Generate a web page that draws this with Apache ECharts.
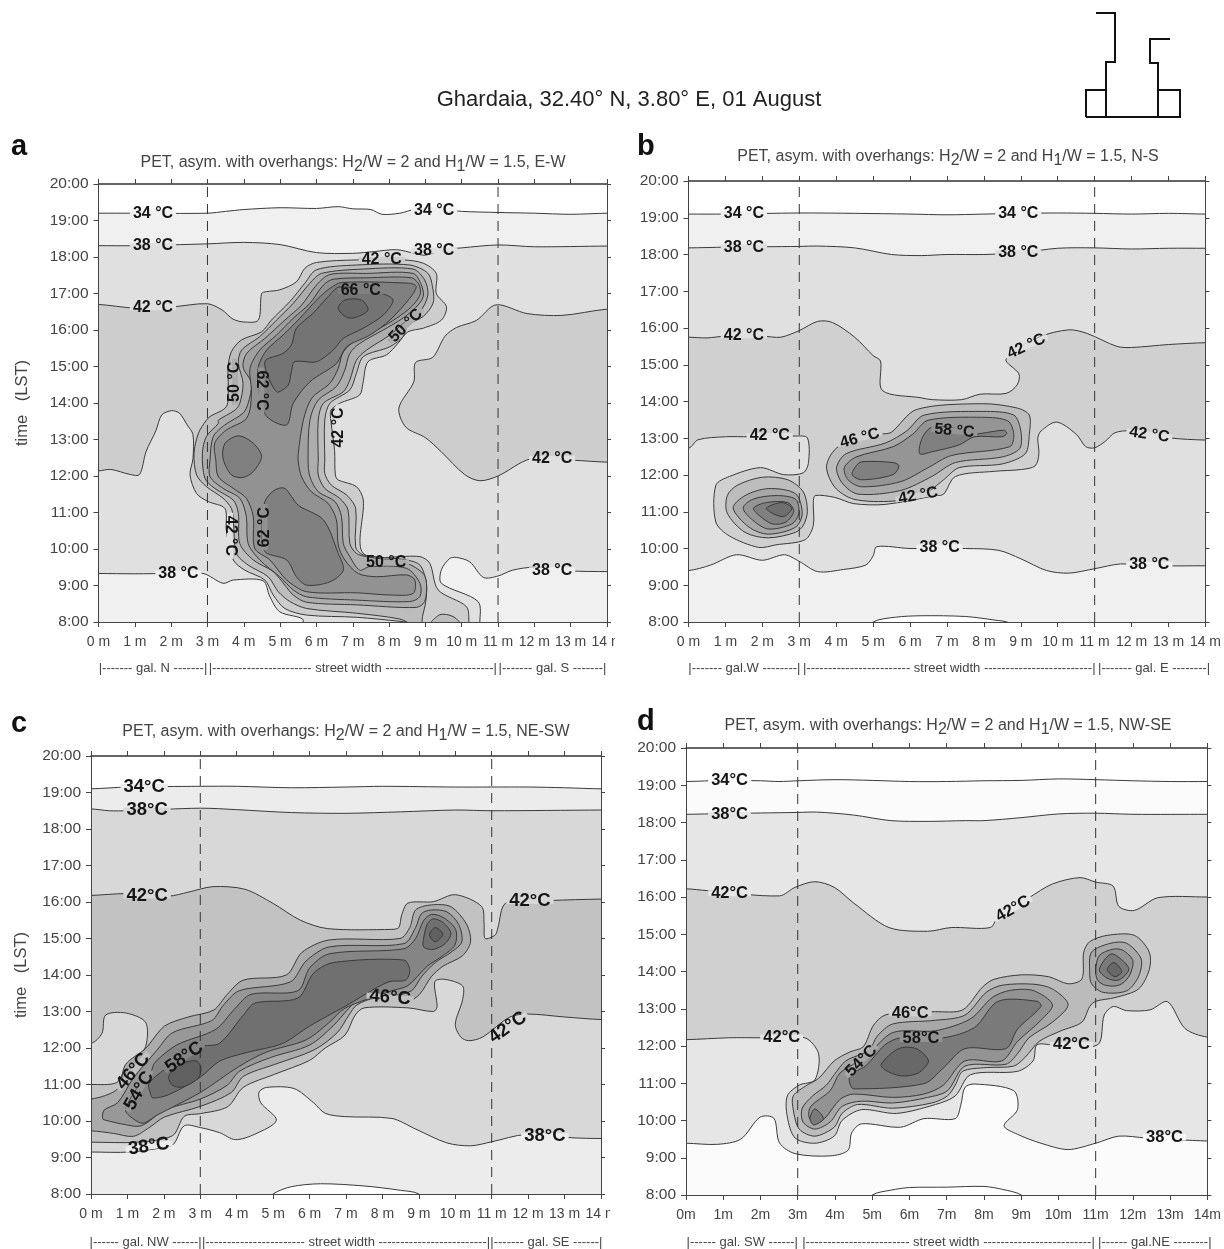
<!DOCTYPE html>
<html><head><meta charset="utf-8">
<style>html,body{margin:0;padding:0;background:#fff}#c{width:1224px;height:1249px}</style>
<script src="https://cdn.jsdelivr.net/npm/echarts@6/dist/echarts.min.js"></script>
</head><body><div id="c"></div>
<script>
// ---- axis ticks / dashes
const metres=[0,14], hours=[8,20], gallery=[3,11];
// ---- PANEL A contours: [metres, hour]
const a34=[[-1,19.2],[0,19.2],[1,19.2],[3,19.2],[3.5,19.25],[4,19.3],[5,19.35],[6,19.33],[6.6,19.38],[7,19.32],[7.5,19.3],[7.8,19.17],[8.3,19.2],[8.7,19.3],[9.5,19.3],[10,19.25],[11,19.22],[12,19.2],[13,19.17],[14,19.2],[15,19.2],[15,7],[-1,7]];
const a38=[[-1,18.31],[0,18.31],[1,18.31],[3,18.36],[4,18.4],[5,18.34],[6,18.12],[7,18.1],[7.6,18.15],[8.2,18.2],[8.7,18.1],[9,18.05],[9.5,18.2],[10,18.25],[11,18.33],[12,18.28],[14,18.3],[15,18.3],[15,9.38],[14,9.38],[13,9.4],[12,9.5],[11.4,9.42],[11,9.26],[10.6,9.22],[10.22,9.65],[9.85,9.77],[9.67,9.74],[9.44,9.43],[9.44,9.06],[10.45,8.56],[10.5,7.96],[10.5,7.5],[5.2,7.5],[5.64,8.05],[4.99,8.28],[4.72,8.69],[4.53,9.13],[3.71,9.15],[3.43,9.06],[2.88,9.33],[2,9.33],[1,9.32],[0,9.33],[-1,9.33]];
const a42right=[[15,12.38],[14,12.38],[13.09,12.43],[11.9,12.47],[11,12],[10.5,11.87],[10.08,12.04],[9.43,12.67],[9,13.05],[8.46,13.34],[8.27,13.86],[8.68,14.58],[8.73,15.11],[9.2,15.25],[9.54,15.83],[9.86,16.07],[10.4,16.26],[10.94,16.69],[11.8,16.45],[12.76,16.4],[14,16.57],[15,16.57]];
const a42main=[[-1,16.7],[0,16.7],[1,16.6],[2,16.63],[3,16.72],[3.4,16.55],[3.7,16.3],[4,16.22],[4.4,16.27],[4.49,17],[4.62,17.05],[4.99,17.1],[5.45,17.32],[5.68,17.69],[6,17.85],[7.1,17.92],[8.39,17.92],[8.94,17.83],[9.3,17.55],[9.3,17],[9.58,16.64],[9.44,16.27],[8.94,16.05],[8.52,15.95],[8.25,15.64],[7.93,15.32],[7.42,15.13],[7.28,14.54],[7.19,14.22],[6.64,13.99],[6.4,13.8],[6.4,13.5],[6.5,12.7],[6.52,12.03],[6.6,11.89],[7.1,11.71],[7.29,11.34],[7.29,9.88],[8.85,9.79],[9.12,9.61],[9.35,8.88],[10.13,8.42],[10.2,7.96],[10.2,7.6],[8.95,7.6],[8.95,7.95],[8.39,8.01],[7.1,8.13],[5.73,8.19],[5.13,8.37],[4.81,8.74],[4.58,9.15],[4.03,9.42],[3.71,9.7],[3.52,10.5],[3.48,11.11],[3.02,11.3],[2.7,11.52],[2.52,12.03],[2.6,12.47],[2.6,13.14],[2.44,13.4],[2.23,13.72],[2.01,13.79],[1.74,13.67],[1.58,13.24],[1.31,12.67],[1.13,12.04],[0.88,12.04],[0.34,12.18],[0,12.14],[-1,12.14]];
const a46=[[3.57,14.99],[3.66,15.41],[3.94,15.73],[4.49,15.95],[4.76,16.27],[5.27,16.78],[5.68,17.28],[6,17.65],[7.1,17.78],[8.57,17.78],[9.07,17.55],[9.21,17.1],[9.21,16.73],[8.94,16.37],[8.52,16.14],[8.39,15.82],[8.02,15.54],[7.29,15.27],[7.1,14.81],[6.92,14.36],[6.37,13.99],[6.23,13.53],[6.23,12.44],[6.23,12.07],[6.41,11.75],[6.83,11.48],[7.08,11.11],[7.08,10.06],[7.29,9.84],[8.48,9.7],[8.85,9.56],[9.03,9.06],[9.01,8.56],[8.92,8.15],[8.88,7.9],[8.7,7.9],[8.3,8.08],[7.1,8.24],[5.73,8.37],[5.27,8.56],[4.95,8.83],[4.67,9.24],[4.12,9.56],[3.8,9.88],[3.71,10.8],[3.66,11.11],[3.43,11.39],[2.97,11.71],[2.7,12.03],[2.63,12.62],[2.75,13.17],[2.97,13.53],[3.07,13.63],[3.52,13.9],[3.57,14.45]];
const a46foot=[[9.12,7.9],[9.4,8.2],[9.76,8.15],[9.99,7.9]];
const a50=[[3.85,15.09],[3.94,15.45],[4.44,15.82],[4.9,16.27],[5.36,16.73],[5.82,17.28],[6.14,17.55],[7.29,17.67],[8.66,17.67],[8.98,17.37],[9.07,16.96],[8.85,16.5],[8.39,16.18],[8.02,15.86],[7.38,15.45],[7.1,15.17],[6.92,14.63],[6.74,14.31],[6.19,13.99],[6.05,13.53],[6.05,12.44],[6.05,12.03],[6.23,11.66],[6.64,11.39],[6.87,11.07],[6.92,10.15],[7.1,9.88],[7.38,9.79],[8.48,9.61],[8.94,9.33],[9.03,9.06],[8.98,8.56],[8.75,8.4],[7.1,8.47],[5.73,8.54],[5.36,8.74],[5.13,9.01],[4.81,9.38],[4.26,9.7],[3.89,10.15],[3.85,10.98],[3.71,11.34],[3.2,11.66],[2.93,11.94],[2.86,12.62],[2.97,13.08],[3.3,13.44],[3.3,13.53],[3.75,13.8],[3.89,13.99],[3.98,14.54]];
const a54=[[3.98,14.99],[4.08,15.36],[4.58,15.77],[5.13,16.27],[5.59,16.68],[6,17.23],[6.37,17.52],[7.38,17.55],[8.66,17.55],[8.89,17.23],[8.94,16.91],[8.71,16.59],[8.3,16.27],[7.84,16],[7.19,15.63],[6.92,15.36],[6.78,14.9],[6.55,14.45],[6.05,14.08],[5.82,13.53],[5.77,12.44],[5.82,11.98],[6.05,11.57],[6.51,11.3],[6.69,10.89],[6.74,10.15],[6.92,9.79],[7.19,9.42],[7.47,9.52],[8.48,9.47],[8.85,9.06],[8.85,8.7],[8.57,8.56],[7.1,8.6],[5.73,8.69],[5.36,8.88],[4.99,9.24],[4.44,9.7],[4.12,10.15],[4.07,10.89],[3.89,11.39],[3.43,11.66],[3.07,11.98],[3.07,12.44],[3.16,13.08],[3.48,13.4],[3.98,13.72],[4.12,13.99],[4.21,14.54]];
const a58=[[4.17,14.95],[4.44,15.45],[4.9,15.86],[5.36,16.32],[5.82,16.73],[6.19,17.23],[6.46,17.39],[7.38,17.43],[8.62,17.43],[8.83,17.23],[8.85,16.96],[8.62,16.64],[8.2,16.32],[7.75,16.05],[7.1,15.73],[6.74,15.4],[6.6,14.95],[6.37,14.54],[5.87,14.13],[5.64,13.53],[5.5,12.62],[5.5,12.39],[5.59,11.98],[5.86,11.57],[6.32,11.25],[6.55,10.8],[6.6,10.11],[6.78,9.7],[7.15,9.33],[7.65,9.24],[8.48,9.29],[8.71,9.15],[8.66,8.78],[8.02,8.74],[7.1,8.8],[5.73,8.83],[5.18,9.15],[4.72,9.7],[4.3,10.02],[4.26,10.89],[4.07,11.39],[3.71,11.66],[3.3,11.98],[3.23,12.44],[3.2,12.9],[3.52,13.26],[4.03,13.53],[4.17,13.81],[4.21,14.36]];
const a62up=[[4.4,14.99],[4.63,15.45],[5.08,15.86],[5.54,16.32],[6.05,16.87],[6.37,17.14],[6.69,17.3],[8.57,17.28],[8.75,17.19],[8.57,16.87],[8.02,16.27],[7.47,15.86],[6.83,15.54],[6.55,15.08],[5.82,14.58],[5.36,13.99],[5.18,13.4],[4.63,13.63],[4.42,14.26]];
const a62low=[[4.58,11.3],[4.86,11.62],[5.13,11.66],[5.5,11.2],[6.19,10.8],[6.6,9.88],[6.74,9.42],[6.37,9.1],[5.73,9.01],[5.45,9.24],[5.18,9.7],[4.58,9.93],[4.49,10.6]];
const a62mid=[[3.43,12.48],[3.48,12.89],[3.85,13.1],[4.26,12.9],[4.49,12.53],[4.26,12.12],[3.98,11.96],[3.66,12.03]];
const a66=[[4.58,15.13],[4.9,14.31],[5.22,14.49],[5.31,14.86],[5.4,15.13],[6,15.13],[6.46,15.45],[6.74,15.77],[7.29,16.05],[7.84,16.41],[8.11,16.82],[7.79,17],[6.64,17.18],[6.32,16.91],[5.91,16.46],[5.45,16.05],[5.31,15.59],[5.08,15.36]];
const a70=[[6.6,16.59],[6.78,16.82],[7.24,16.82],[7.42,16.55],[7.1,16.35],[6.83,16.35]];
const aLabelPos=[[1.5,19.2],[9.24,19.28],[1.5,18.3],[9.24,18.18],[7.8,17.92],[7.22,17.07],[8.46,16.12],[1.5,16.62],[3.76,14.58],[4.48,14.34],[6.61,13.33],[12.49,12.47],[3.62,10.36],[4.57,10.6],[7.92,9.63],[2.2,9.33],[12.49,9.42]];
const aLabelText=['34 °C','34 °C','38 °C','38 °C','42 °C','66 °C','50 °C','42 °C','50 °C','62 °C','42 °C','42 °C','42 °C','62 °C','50 °C','38 °C','38 °C'];
const aLabelTurn=[0,0,0,0,0,0,45,0,90,-90,90,0,-90,90,0,0,0];
const aLabelLevel=[1,1,2,2,3,8,5,2,5,7,2,2,2,7,5,1,1];
// ---- PANEL B
const b34=[[-1,19.1],[0,19.1],[1,19.1],[3,19.13],[4.5,19.12],[6,19.1],[7,19.08],[8,19.1],[9,19.12],[10,19.13],[11,19.12],[12,19.1],[13,19.12],[14,19.1],[15,19.1],[15,7],[-1,7]];
const bCool=[[4.5,7.5],[5,8],[5.6,8.13],[6.3,8.17],[7.5,8.15],[8.3,8.05],[8.7,7.97],[9.2,7.5]];
const b38=[[-1,18.18],[0,18.18],[1,18.2],[3,18.22],[3.5,18.23],[4.5,18.18],[5.5,18],[6.3,17.97],[7,18],[8,18],[9,18.05],[10,18.17],[11,18.18],[12,18.15],[13,18.17],[14,18.17],[15,18.17],[15,9.53],[14,9.53],[12.5,9.53],[11.7,9.58],[11,9.45],[10.3,9.33],[9.7,9.4],[9,9.72],[8.4,9.95],[7.5,10],[6,10],[5.1,10.05],[5,9.8],[4.8,9.55],[4.2,9.43],[3.5,9.37],[3,9.65],[2.6,9.83],[2,9.68],[1.3,9.83],[0.6,9.55],[0,9.4],[-1,9.4]];
const b42=[[-1,15.75],[0,15.75],[0.5,15.73],[1,15.78],[2,15.78],[2.5,15.75],[3,15.93],[3.5,16.18],[3.9,16.15],[4.5,15.75],[5,15.25],[5.2,15.1],[5.25,14.3],[6.3,14.1],[6.6,14.05],[7.4,14.05],[7.9,14.2],[8.6,14.22],[8.9,14.45],[8.95,14.75],[8.6,15.15],[9.5,15.75],[10.3,15.95],[10.8,15.85],[11.6,15.5],[12,15.47],[13,15.55],[14,15.6],[15,15.6],[15,12.95],[14,12.95],[13.03,13.01],[11.97,13.2],[11.55,13.15],[11.29,12.92],[11,12.74],[10.76,12.77],[10.5,13.11],[9.97,13.44],[9.55,13.2],[9.46,13.01],[9.49,12.58],[9.39,12.25],[9.02,12.15],[8.28,12.1],[7.23,11.96],[6.91,11.48],[6.7,11.44],[5.33,11.2],[4.48,11.22],[3.96,11.39],[3.43,11.44],[3.38,11.25],[3.38,10.63],[3.16,10.24],[2.37,10.1],[1.9,10.03],[1.11,10.34],[0.74,10.72],[0.74,11.72],[1.11,11.96],[1.95,12.2],[2.58,12.01],[3.11,12.06],[3.25,12.34],[3.22,13.01],[2.9,13.06],[1.64,13.04],[1,13.04],[0.26,12.96],[0,12.73],[-1,12.73]];
const b46west=[[1.05,11.44],[1.32,11.72],[2,11.94],[2.69,11.87],[3.11,11.54],[3.22,11.01],[3.11,10.63],[2.9,10.44],[2.16,10.29],[1.53,10.44],[1.05,10.96]];
const b50west=[[1.21,11.1],[1.53,11.44],[2.16,11.63],[2.9,11.49],[3.08,10.96],[2.9,10.58],[2.16,10.39],[1.64,10.58]];
const b54west=[[1.48,11.1],[1.74,11.34],[2.37,11.44],[2.9,11.34],[2.99,10.96],[2.8,10.67],[2.16,10.53],[1.74,10.77]];
const b58west=[[1.76,11.1],[2.11,11.25],[2.69,11.25],[2.85,11.01],[2.64,10.72],[2.27,10.67],[1.9,10.91]];
const b62west=[[2.11,11.1],[2.53,11.25],[2.8,11.1],[2.58,10.87],[2.27,10.96]];
const b46=[[3.74,12.25],[4.06,12.77],[5.22,13.11],[5.49,13.16],[6.17,13.78],[7.97,13.94],[8.91,13.82],[9.23,13.63],[9.23,13.11],[9.12,12.58],[8.49,12.3],[7.33,12.2],[6.91,11.87],[6.38,11.48],[5.54,11.29],[4.48,11.34],[3.96,11.67]];
const b50=[[4.01,12.2],[4.27,12.58],[5.33,12.87],[5.91,13.2],[6.38,13.63],[7.97,13.73],[8.81,13.63],[9,13.2],[8.97,12.72],[8.49,12.49],[7.23,12.34],[6.59,11.96],[5.75,11.58],[4.59,11.48],[4.17,11.77]];
const b54=[[4.22,12.2],[4.54,12.49],[5.54,12.77],[6.07,13.11],[6.49,13.49],[7.97,13.57],[8.65,13.47],[8.81,13.11],[8.7,12.77],[7.12,12.53],[6.49,12.2],[5.75,11.82],[4.69,11.68],[4.32,11.87]];
const b58=[[6.26,12.58],[6.33,13.01],[6.59,13.3],[7.3,13.25],[7.6,13.1],[8.54,13.22],[8.62,13.13],[8.49,13.04],[7.75,13.04],[7.33,12.82],[6.59,12.63]];
const b58low=[[4.54,12.25],[4.69,12.36],[5.54,12.34],[5.7,12.25],[5.54,12.01],[4.69,11.87],[4.43,12.01]];
const bLabelPos=[[1.5,19.1],[8.93,19.1],[1.5,18.2],[8.93,18.05],[1.5,15.8],[9.15,15.5],[2.2,13.06],[4.64,13],[7.2,13.2],[6.22,11.44],[6.8,10.03],[12.48,9.55],[12.48,13.1]];
const bLabelText=['34 °C','34 °C','38 °C','38 °C','42 °C','42 °C','42 °C','46 °C','58 °C','42 °C','38 °C','38 °C','42 °C'];
const bLabelTurn=[0,0,0,0,0,25,0,15,-5,10,0,0,-8];
const bLabelLevel=[1,1,2,2,2,2,2,3,6,3,1,1,2];
// ---- PANEL C
const c34=[[-1,19.1],[0,19.1],[1,19.15],[3,19.17],[4,19.17],[5.5,19.13],[7,19.15],[8,19.17],[10,19.15],[12,19.15],[13,19.13],[14,19.1],[15,19.1],[15,7],[-1,7]];
const cCool=[[4.5,7.5],[5,8],[5.5,8.2],[6.3,8.28],[7.5,8.22],[8.5,8.1],[9,8],[9.5,7.5]];
const c38=[[-1,18.55],[0,18.55],[0.5,18.5],[1,18.5],[3,18.57],[4,18.53],[5.5,18.45],[7,18.43],[8.5,18.47],[10,18.52],[11,18.5],[14,18.52],[15,18.52],[15,9.52],[14,9.52],[13.21,9.54],[11.93,9.63],[11,9.43],[10.42,9.32],[9.77,9.4],[8.91,9.78],[8.26,10.07],[6.97,10.12],[6.43,10.21],[6.11,10.5],[5.57,10.89],[4.82,10.92],[4.61,10.79],[4.66,10.5],[5.09,10.02],[4.5,9.64],[3.96,9.49],[3.53,9.68],[3,9.82],[2.56,9.87],[2.29,9.39],[2.13,9.3],[1.06,9.15],[0,9.15],[-1,9.15]];
const c42=[[-1,16.18],[0,16.18],[0.95,16.23],[2.13,16.16],[2.67,16.27],[3.35,16.42],[4.22,16.35],[5,15.96],[5.75,15.5],[6.5,15.27],[8.26,15.25],[8.45,15.3],[8.53,15.65],[8.7,15.97],[9.4,16.01],[10,16.2],[10.72,15.88],[10.79,15.4],[10.82,15],[11.1,15.1],[11.17,15.3],[11.39,15.97],[12.6,16.04],[14,16.08],[15,16.08],[15,12.78],[14,12.78],[13,12.85],[12,12.93],[11.5,12.85],[10.75,12.3],[10.37,12.2],[10.15,12.3],[10,12.65],[10.2,13.32],[10.2,13.7],[9.72,13.88],[9.44,13.82],[9.5,13.13],[9.4,13],[8.7,13.1],[7.5,13.1],[7.25,12.9],[6.97,12.35],[6.43,12],[6,11.66],[5.04,11.28],[4.18,10.92],[3.75,10.39],[3,10.2],[2.56,10.13],[2.24,9.6],[1.27,9.42],[0,9.42],[-1,9.42],[-1,11],[0,11],[0.7,11.05],[0.95,11.45],[1.2,11.7],[1.5,12.04],[1.5,12.7],[0.95,12.96],[0.4,12.9],[0.3,12.4],[0,12.13],[-1,12.13]];
const c46=[[-1,10.6],[0,10.6],[0.73,10.88],[0.95,11.55],[1.49,11.98],[2.02,12.6],[2.67,12.85],[3.37,13.04],[3.74,13.47],[4.18,13.86],[5.36,14],[5.79,14.62],[6.54,14.96],[8.48,15],[8.75,15.3],[8.91,15.78],[9.34,15.92],[9.88,15.87],[10.31,15.39],[10.42,14.91],[10.2,14.53],[9.66,14.24],[9.34,13.95],[9.02,13.47],[8.7,13.28],[7.83,13.37],[7.3,13.18],[7.08,12.9],[6.76,12.42],[6.11,11.94],[5.04,11.55],[4.18,11.22],[3.85,10.78],[3,10.4],[2.02,10.11],[1.6,9.82],[1.16,9.58],[0.62,9.66],[0,9.73],[-1,9.73]];
const c50=[[0.32,10.06],[0.36,10.3],[0.73,10.5],[1.16,11.17],[1.81,11.94],[2.24,12.42],[3.31,12.75],[3.64,13.18],[4.07,13.57],[5.47,13.81],[5.9,14.38],[6.54,14.77],[8.59,14.86],[8.91,15.3],[9.07,15.68],[9.34,15.78],[9.77,15.73],[10.09,15.39],[10.18,14.91],[9.88,14.62],[9.45,14.34],[9.07,13.95],[8.8,13.57],[8.26,13.42],[7.4,13.38],[7.08,13.09],[6.65,12.61],[6,12.08],[4.93,11.74],[4.07,11.36],[3.74,10.98],[3,10.6],[2.02,10.3],[1.38,9.87],[0.84,9.92],[0.41,10.02]];
const c54=[[0.95,10.3],[1.16,10.06],[1.43,9.94],[1.81,10.16],[3,10.78],[4.07,11.5],[4.82,11.89],[5.9,12.22],[6.54,12.7],[6.97,13.09],[8.26,13.57],[8.7,13.71],[9.23,14.24],[9.66,14.53],[9.99,14.82],[10.01,15.25],[9.66,15.58],[9.34,15.66],[9.13,15.49],[8.91,15],[8.59,14.72],[6.54,14.58],[6,14.19],[5.68,13.57],[4.39,13.47],[3.96,13.09],[3.42,12.51],[2.35,12.08],[1.75,11.6],[1.65,11.36],[1.32,10.98]];
const c58=[[1.64,10.73],[1.59,11.02],[2.02,11.41],[3,12.03],[3.53,12.13],[4.18,12.9],[4.5,13.23],[5.68,13.37],[6.11,14.05],[6.65,14.34],[8.59,14.41],[8.75,14.14],[8.64,13.86],[8.16,13.81],[6.97,13.14],[6,12.6],[5.25,12.12],[4.29,11.88],[3.53,11.64],[3,11.2],[2.13,10.72],[1.7,10.63]];
const c62=[[2.13,11.22],[2.45,11.55],[2.88,11.65],[3.02,11.46],[2.94,11.17],[2.51,10.93],[2.24,10.98]];
const c58top=[[9.13,15],[9.23,15.39],[9.39,15.54],[9.66,15.44],[9.88,15.15],[9.72,14.86],[9.39,14.7],[9.13,14.77]];
const c62top=[[9.29,15.1],[9.45,15.3],[9.66,15.12],[9.45,14.91]];
const cLabelPos=[[1.46,19.16],[1.54,18.51],[1.54,16.18],[12.05,16.03],[11.44,12.56],[8.21,13.38],[1.59,9.3],[12.46,9.58],[1.16,11.36],[1.32,10.83],[2.56,11.74]];
const cLabelText=['34°C','38°C','42°C','42°C','42°C','46°C','38°C','38°C','46°C','54°C','58°C'];
const cLabelTurn=[0,0,0,0,35,-5,8,0,50,60,35];
const cLabelLevel=[1,2,2,2,2,3,1,1,3,5,6];
// ---- PANEL D
const d34=[[-1,19.1],[0,19.1],[1,19.13],[2,19.12],[2.5,19.1],[3,19.12],[4,19.15],[5,19.13],[6,19.1],[7,19.1],[8,19.12],[9,19.13],[10,19.17],[11,19.15],[12,19.12],[13,19.1],[14,19.1],[15,19.1],[15,7],[-1,7]];
const dCool=[[4.5,7.5],[5,8],[5.5,8.13],[6,8.2],[7,8.21],[8,8.23],[8.5,8.15],[9,8],[9.5,7.5]];
const d38=[[-1,18.22],[0,18.22],[1,18.24],[3,18.27],[3.5,18.28],[4.5,18.2],[5.5,18.05],[6.5,18.03],[7.5,18.05],[8,18.05],[9,18.13],[10,18.23],[11,18.25],[12,18.22],[14,18.22],[15,18.22],[15,9.45],[14,9.45],[12.36,9.53],[11.62,9.58],[11,9.39],[10.26,9.22],[9.53,9.39],[8.9,9.63],[8.54,9.86],[8.9,10.29],[8.8,10.8],[7.75,10.98],[7.49,10.89],[7.38,10.42],[7.23,10.05],[6.39,10.05],[5.76,9.82],[4.71,9.91],[4.45,9.67],[4.35,9.2],[3.87,9.05],[2.93,9.11],[2.51,9.4],[2.36,10.06],[1.99,10.09],[1.47,9.5],[0.84,9.36],[0,9.39],[-1,9.39]];
const d42=[[-1,16.22],[0,16.22],[0.58,16.17],[2.51,16.03],[2.93,16.26],[3.46,16.41],[3.98,16.26],[4.5,15.84],[5.45,15.18],[6.49,15.08],[7.12,15.18],[8.17,15.18],[8.38,15.46],[9.21,15.98],[9.84,16.35],[10.58,16.52],[11,16.4],[11.47,16.29],[11.62,15.75],[12.04,15.64],[12.67,15.98],[14,16],[15,16],[15,12.24],[14,12.24],[13.4,12.47],[12.93,13.19],[12.46,12.97],[11.83,12.95],[11.47,13.06],[11.23,12.83],[11.05,12.03],[9.84,12.03],[9.42,12.03],[9.32,11.6],[8.9,11.32],[7.64,11.23],[7.23,10.66],[6.7,10.43],[5.65,10.19],[4.71,10.29],[4.19,10],[3.98,9.58],[3.46,9.39],[2.93,9.53],[2.72,10.1],[2.72,10.66],[3.04,10.95],[3.46,11.09],[3.56,11.79],[3.19,12.22],[2.04,12.22],[1.15,12.22],[0,12.17],[-1,12.17]];
const d46=[[4.76,11.98],[5.03,12.55],[5.34,12.83],[6.02,12.92],[6.7,12.92],[7.43,12.97],[7.96,13.58],[8.27,13.79],[9.01,13.91],[9.74,13.86],[10.26,13.67],[10.63,13.8],[10.68,14.52],[10.84,14.8],[11.31,14.97],[12.04,14.97],[12.44,14.52],[12.44,14.05],[12.15,13.53],[11.52,13.3],[11,13.2],[10.84,13.06],[10.63,12.64],[10.05,12.4],[9.48,12.12],[9.11,11.7],[8.8,11.46],[8.06,11.42],[7.43,11.32],[7.23,10.95],[7.02,10.66],[6.6,10.47],[5.55,10.33],[4.61,10.43],[4.19,10.19],[3.98,9.82],[3.46,9.58],[3.04,9.77],[2.88,10.29],[2.88,10.66],[3.25,10.95],[3.56,11.13],[3.98,11.6],[4.4,11.84]];
const d50=[[5.13,12.26],[5.55,12.59],[6.7,12.69],[7.49,12.83],[8.06,13.44],[8.48,13.63],[9.32,13.66],[9.84,13.53],[10.26,13.11],[9.84,12.64],[9.21,12.22],[8.9,11.79],[8.59,11.51],[7.49,11.46],[7.02,10.8],[6.49,10.62],[5.55,10.47],[4.71,10.52],[4.19,10.38],[3.87,9.96],[3.46,9.77],[3.14,9.96],[3.12,10.33],[3.4,10.66],[3.77,10.95],[3.98,11.23],[4.29,11.6],[4.92,11.89]];
const d54=[[4.14,11.28],[4.82,11.7],[5.55,12.36],[6.7,12.41],[7.64,12.73],[8.22,13.3],[8.69,13.49],[9.32,13.49],[9.84,13.11],[9.53,12.69],[8.9,12.12],[8.48,11.6],[7.49,11.6],[6.91,10.95],[6.39,10.71],[5.55,10.62],[4.5,10.71],[4.14,10.57],[3.72,10.05],[3.46,9.91],[3.3,10.1],[3.35,10.38],[3.87,10.8]];
const d58=[[4.4,10.99],[4.4,11.23],[4.82,11.46],[5.34,12.03],[5.76,12.22],[6.91,12.22],[7.75,12.5],[8.38,13.2],[9.43,13.2],[9.53,13.06],[8.9,12.45],[8.59,11.93],[7.49,11.93],[6.91,11.41],[6.39,10.99],[4.5,10.85]];
const d58west=[[3.33,10.05],[3.46,10.31],[3.69,10.05],[3.43,9.88]];
const d62=[[5.24,11.51],[5.71,11.93],[6.18,11.93],[6.51,11.6],[6.23,11.27],[5.76,11.2],[5.34,11.36]];
const d50east=[[10.84,14],[10.89,14.52],[11.41,14.76],[11.83,14.76],[12.22,14.34],[12.15,13.86],[11.83,13.48],[11.2,13.44],[10.89,13.67]];
const d54east=[[11,14.05],[11.1,14.43],[11.47,14.6],[11.73,14.57],[12,14.29],[11.89,13.86],[11.62,13.63],[11.26,13.63],[11.05,13.77]];
const d58east=[[11.1,14.05],[11.41,14.47],[11.73,14.29],[11.89,14.05],[11.62,13.77],[11.31,13.82]];
const d62east=[[11.31,14.05],[11.49,14.24],[11.7,14],[11.52,13.86]];
const dLabelPos=[[1.17,19.12],[1.17,18.21],[1.17,16.1],[8.78,15.68],[2.57,12.22],[6.02,12.88],[6.31,12.19],[4.71,11.6],[10.35,12.03],[12.85,9.55]];
const dLabelText=['34°C','38°C','42°C','42°C','42°C','46°C','58°C','54°C','42°C','38°C'];
const dLabelTurn=[0,0,0,30,0,0,0,45,0,0];
const dLabelLevel=[1,2,2,2,2,3,6,5,2,1];

// ---- styles (not data)
const FONT='"Liberation Sans",Arial,sans-serif';
const shades={
 a:['#ffffff','#f0f0f0','#e0e0e0','#cdcdcd','#bdbdbd','#adadad','#a0a0a0','#929292','#808080','#747474','#686868'],
 b:['#ffffff','#f0f0f0','#e0e0e0','#d0d0d0','#bdbdbd','#a8a8a8','#959595','#808080','#6e6e6e'],
 c:['#ffffff','#ececec','#d8d8d8','#c2c2c2','#ababab','#989898','#858585','#707070','#606060'],
 d:['#ffffff','#fbfbfb','#e6e6e6','#d0d0d0','#bbbbbb','#a8a8a8','#939393','#7a7a7a','#686868']};
const dash=n=>'-'.repeat(n);
const street=n=>'|'+dash(n)+' street width '+dash(25)+'|';
const panels=[
 {k:'a',box:[98.5,184,508.5,438],unit:' m',ylab:true,gap:68,lab:16,
  regions:[[a34,1],[a38,2],[a42right,3],[a42main,3],[a46,4],[a46foot,4],[a50,5],[a54,6],[a58,7],[a62up,8],[a62low,8],[a62mid,8],[a66,9],[a70,10]],
  pos:aLabelPos,text:aLabelText,turn:aLabelTurn,level:aLabelLevel,
  title:['E-W',348,146],letter:[6,127],gal:['|'+dash(7)+' gal. N '+dash(7)+'|',street(23),'|'+dash(7)+' gal. S '+dash(7)+'|',668]},
 {k:'b',box:[688.5,181,521.5,441],unit:' m',lab:16,
  regions:[[b34,1],[bCool,0],[b38,2],[b42,3],[b46west,4],[b50west,5],[b54west,6],[b58west,7],[b62west,8],[b46,4],[b50,5],[b54,6],[b58,7],[b58low,7]],
  pos:bLabelPos,text:bLabelText,turn:bLabelTurn,level:bLabelLevel,
  title:['N-S',943,140],letter:[632,127],gal:['|'+dash(7)+' gal.W '+dash(8)+'|',street(24),'|'+dash(7)+' gal. E '+dash(8)+'|',668]},
 {k:'c',box:[91,756,510,438],unit:' m',ylab:true,gap:61,lab:18.5,
  regions:[[c34,1],[cCool,0],[c38,2],[c42,3],[c46,4],[c50,5],[c54,6],[c58,7],[c62,8],[c58top,7],[c62top,8]],
  pos:cLabelPos,text:cLabelText,turn:cLabelTurn,level:cLabelLevel,
  title:['NE-SW',341,715],letter:[6,704],gal:['|'+dash(6)+' gal. NW '+dash(6)+'|',street(23),'|'+dash(7)+' gal. SE '+dash(6)+'|',1242]},
 {k:'d',box:[686,748,525,447],unit:'m',lab:16.5,
  regions:[[d34,1],[dCool,0],[d38,2],[d42,3],[d46,4],[d50,5],[d54,6],[d58,7],[d58west,7],[d62,8],[d50east,5],[d54east,6],[d58east,7],[d62east,8]],
  pos:dLabelPos,text:dLabelText,turn:dLabelTurn,level:dLabelLevel,
  title:['NW-SE',943,709],letter:[632,702],gal:['|'+dash(6)+' gal. SW '+dash(6)+'|',street(24),'|'+dash(6)+' gal.NE '+dash(8)+'|',1242]}];

const grid=[],xAxis=[],yAxis=[],series=[],title=[],graphic=[];
const lineCol='#444';
panels.forEach((p,i)=>{
 const [L,T,W,H]=p.box;
 grid.push({left:L,top:T,width:W,height:H,backgroundColor:shades[p.k][0],show:true,borderWidth:0});
 const xBase={gridIndex:i,type:'value',min:metres[0],max:metres[1],interval:1,z:10,splitLine:{show:false},
   axisLine:{show:true,onZero:false,lineStyle:{color:lineCol,width:1}},axisTick:{show:true,length:5,lineStyle:{color:lineCol}}};
 xAxis.push(Object.assign({},xBase,{position:'bottom',axisLabel:{show:true,margin:13,fontFamily:FONT,fontSize:14,color:'#444',showMinLabel:true,showMaxLabel:true,hideOverlap:false,formatter:v=>v+p.unit}}));
 const yBase={gridIndex:i,type:'value',min:hours[0],max:hours[1],interval:1,z:10,splitLine:{show:false},
   axisLine:{show:true,onZero:false,lineStyle:{color:lineCol,width:1}},axisTick:{show:true,length:5,lineStyle:{color:lineCol}}};
 yAxis.push(Object.assign({},yBase,{position:'left',axisLabel:{show:true,margin:10,fontFamily:FONT,fontSize:15.5,color:'#444',formatter:v=>v+':00'},
   name:p.ylab?'time   (LST)':'',nameLocation:'middle',nameGap:p.gap||60,nameTextStyle:{fontFamily:FONT,fontSize:16.5,color:'#444'}}));
});
panels.forEach((p,i)=>{
 xAxis.push({gridIndex:i,type:'value',min:metres[0],max:metres[1],interval:1,position:'top',z:10,splitLine:{show:false},axisLabel:{show:false},axisLine:{show:true,onZero:false,lineStyle:{color:'#333',width:1.5}},axisTick:{show:true,length:5,lineStyle:{color:lineCol}}});
 yAxis.push({gridIndex:i,type:'value',min:hours[0],max:hours[1],interval:1,position:'right',z:10,splitLine:{show:false},axisLabel:{show:false},axisLine:{show:true,onZero:false,lineStyle:{color:lineCol,width:1}},axisTick:{show:true,length:4,lineStyle:{color:lineCol}}});
 const sh=shades[p.k];
 series.push({type:'custom',name:'PET '+p.k,coordinateSystem:'cartesian2d',xAxisIndex:i,yAxisIndex:i,clip:true,z:2,silent:true,animation:false,
   data:p.regions.map((r,j)=>[j]),
   encode:{x:-1,y:-1},
   renderItem:(params,api)=>{
     const r=p.regions[params.dataIndex];
     return {type:'polygon',shape:{points:r[0].map(q=>api.coord(q)),smooth:0.3},style:{fill:sh[r[1]],stroke:'#3a3a3a',lineWidth:1}};
   }});
 gallery.forEach(g=>series.push({type:'line',xAxisIndex:i,yAxisIndex:i,z:3,symbol:'none',silent:true,animation:false,
   data:[[g,hours[0]],[g,hours[1]]],lineStyle:{color:'#333',width:1,type:[10,7]}}));
 series.push({type:'custom',name:'labels '+p.k,coordinateSystem:'cartesian2d',xAxisIndex:i,yAxisIndex:i,clip:false,z:4,silent:true,animation:false,
   data:p.pos.map((q,j)=>[j]),
   encode:{x:-1,y:-1},
   renderItem:(params,api)=>{
     const j=params.dataIndex, c=api.coord(p.pos[j]);
     return {type:'text',x:c[0],y:c[1],rotation:p.turn[j]*Math.PI/180,
       style:{text:p.text[j],font:'bold '+p.lab+'px '+FONT,fill:'#151515',align:'center',verticalAlign:'middle',lineHeight:6,backgroundColor:sh[p.level[j]],padding:[0,3]}};
   }});
 const cx=f=>p.box[0]+p.box[2]*f/14;
 title.push({text:'PET, asym. with overhangs: H{s|2}/W = 2 and H{s|1}/W = 1.5, '+p.title[0],left:p.title[1],top:p.title[2],textAlign:'center',
   textStyle:{fontFamily:FONT,fontSize:16,fontWeight:'normal',color:'#444',rich:{s:{fontFamily:FONT,fontSize:16,color:'#444',padding:[8,0,0,0]}}}});
 title.push({text:p.k,left:p.letter[0],top:p.letter[1],textStyle:{fontFamily:FONT,fontSize:29,fontWeight:'bold',color:'#111'}});
 [[1.5,0],[7,1],[12.5,2]].forEach(s=>graphic.push({type:'text',x:cx(s[0]),y:p.gal[3],silent:true,
   style:{text:p.gal[s[1]],font:'13px '+FONT,fill:'#444',align:'center',verticalAlign:'middle'}}));
});
title.push({text:'Ghardaia, 32.40° N, 3.80° E, 01 August',left:624,top:84,textAlign:'center',textStyle:{fontFamily:FONT,fontSize:22,fontWeight:'normal',color:'#222'}});
[[[1096,13],[1115,13],[1115,62],[1106,62],[1106,117]],[[1170,39],[1150,39],[1150,63],[1158,63],[1158,117]],[[1086,117],[1180,117],[1180,90],[1158,90]],[[1106,90],[1086,90],[1086,117]]]
 .forEach(l=>graphic.push({type:'polyline',silent:true,shape:{points:l},style:{stroke:'#111',lineWidth:2,fill:null}}));
// the source crop cuts the last x tick label of the two left panels
[[615,632],[610,1205]].forEach(r=>graphic.push({type:'rect',silent:true,z:50,shape:{x:r[0],y:r[1],width:22,height:18},style:{fill:'#fff'}}));

const chart=echarts.init(document.getElementById('c'),null,{renderer:'canvas'});
chart.setOption({animation:false,backgroundColor:'#fff',tooltip:{show:false},legend:{show:false},title,grid,xAxis,yAxis,series,graphic});
</script></body></html>
